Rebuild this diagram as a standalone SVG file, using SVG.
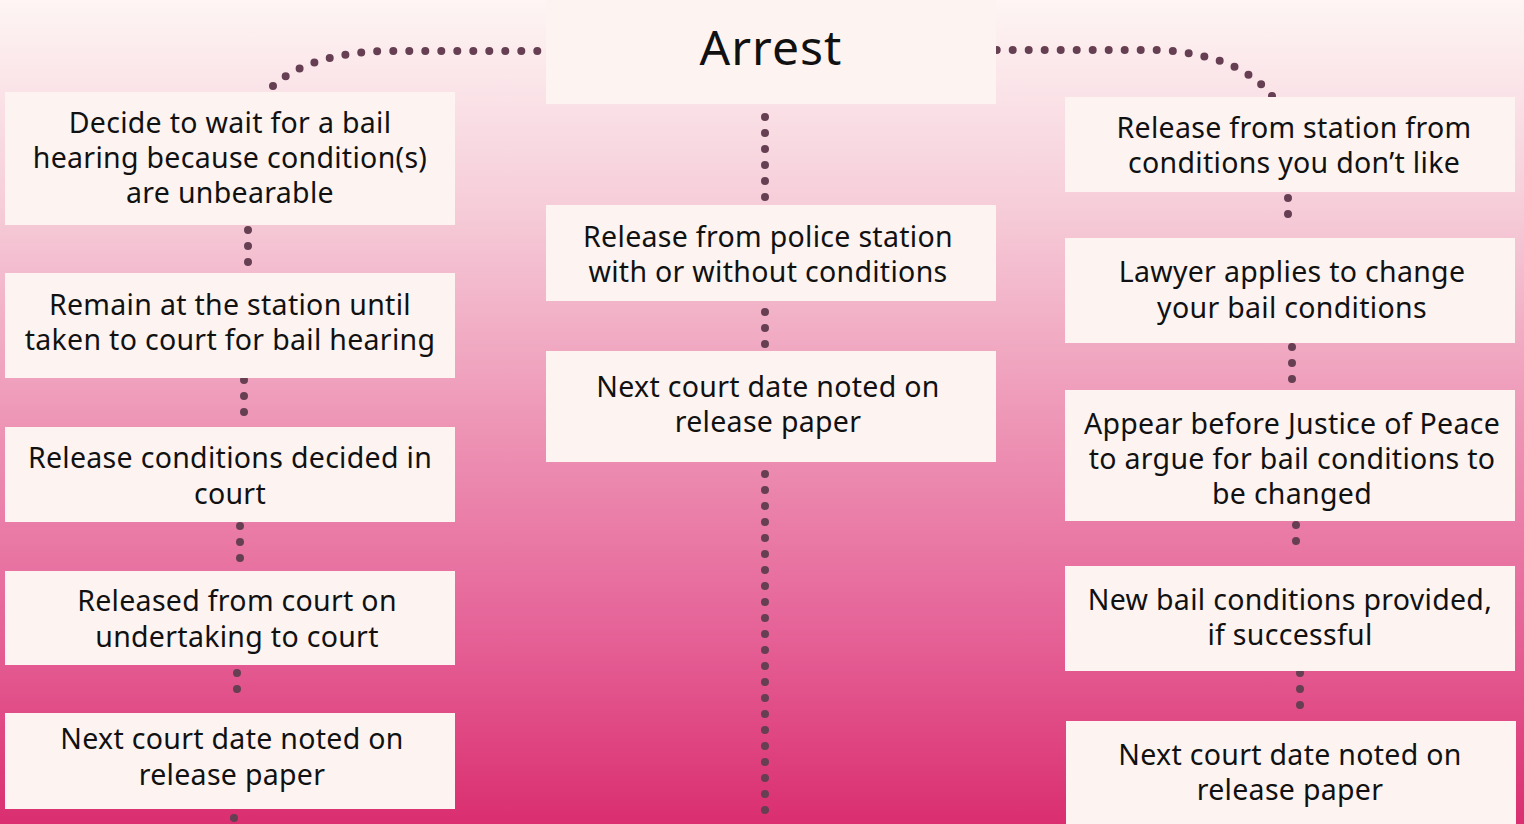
<svg xmlns="http://www.w3.org/2000/svg" width="1524" height="824" viewBox="0 0 1524 824">
<defs>
<linearGradient id="bg" x1="0" y1="0" x2="0" y2="1">
<stop offset="0" stop-color="#fef5f4"/>
<stop offset="0.25" stop-color="#f6cdd9"/>
<stop offset="0.5" stop-color="#ee98b7"/>
<stop offset="0.75" stop-color="#e6669a"/>
<stop offset="1" stop-color="#da2e70"/>
</linearGradient>
</defs>
<style>
.box{fill:#fdf4f2}
.t{font-family:"Noto Sans","Open Sans",sans-serif;font-size:28.5px;letter-spacing:0.3px;fill:#111;text-anchor:middle}
.d{fill:none;stroke:#663f52;stroke-width:8;stroke-linecap:round;stroke-dasharray:0 16}
</style>
<rect width="1524" height="824" fill="url(#bg)"/>
<g id="connectors">
<path class="d" d="M273 86 Q310 53 385 51 L548 51"/>
<path class="d" d="M1272 96 Q1240 55 1160 50 L994 50"/>
<path class="d" d="M765 117 L765 199"/>
<path class="d" d="M765 312 L765 346"/>
<path class="d" d="M765 474 L765 818"/>
<path class="d" d="M248 230 L248 264"/>
<path class="d" d="M244 380 L244 422"/>
<path class="d" d="M240 526 L240 568"/>
<path class="d" d="M237 673 L237 705"/>
<path class="d" d="M234 818 L234 818"/>
<path class="d" d="M1288 198 L1288 230"/>
<path class="d" d="M1292 347 L1292 383"/>
<path class="d" d="M1296 525 L1296 557"/>
<path class="d" d="M1300 673 L1300 721"/>
</g>
<g id="arrest"><rect class="box" x="546" y="0" width="450" height="104"/><text class="t" x="771" y="65" style="font-size:48px;letter-spacing:1px">Arrest</text></g>
<g id="l1"><rect class="box" x="5" y="92" width="450" height="133"/><text class="t" x="230" y="133">Decide to wait for a bail</text><text class="t" x="230" y="168">hearing because condition(s)</text><text class="t" x="230" y="203">are unbearable</text></g>
<g id="l2"><rect class="box" x="5" y="273" width="450" height="105"/><text class="t" x="230" y="315">Remain at the station until</text><text class="t" x="230" y="350">taken to court for bail hearing</text></g>
<g id="l3"><rect class="box" x="5" y="427" width="450" height="95"/><text class="t" x="230" y="468">Release conditions decided in</text><text class="t" x="230" y="504">court</text></g>
<g id="l4"><rect class="box" x="5" y="571" width="450" height="94"/><text class="t" x="237" y="611">Released from court on</text><text class="t" x="237" y="647">undertaking to court</text></g>
<g id="l5"><rect class="box" x="5" y="713" width="450" height="96"/><text class="t" x="232" y="749">Next court date noted on</text><text class="t" x="232" y="785">release paper</text></g>
<g id="m1"><rect class="box" x="546" y="205" width="450" height="96"/><text class="t" x="768" y="247">Release from police station</text><text class="t" x="768" y="282">with or without conditions</text></g>
<g id="m2"><rect class="box" x="546" y="351" width="450" height="111"/><text class="t" x="768" y="397">Next court date noted on</text><text class="t" x="768" y="432">release paper</text></g>
<g id="r1"><rect class="box" x="1065" y="97" width="450" height="95"/><text class="t" x="1294" y="138">Release from station from</text><text class="t" x="1294" y="173">conditions you don’t like</text></g>
<g id="r2"><rect class="box" x="1065" y="238" width="450" height="105"/><text class="t" x="1292" y="282">Lawyer applies to change</text><text class="t" x="1292" y="318">your bail conditions</text></g>
<g id="r3"><rect class="box" x="1065" y="390" width="450" height="131"/><text class="t" x="1292" y="434">Appear before Justice of Peace</text><text class="t" x="1292" y="469">to argue for bail conditions to</text><text class="t" x="1292" y="504">be changed</text></g>
<g id="r4"><rect class="box" x="1065" y="566" width="450" height="105"/><text class="t" x="1290" y="610">New bail conditions provided,</text><text class="t" x="1290" y="645">if successful</text></g>
<g id="r5"><rect class="box" x="1066" y="721" width="450" height="110"/><text class="t" x="1290" y="765">Next court date noted on</text><text class="t" x="1290" y="800">release paper</text></g>
</svg>
